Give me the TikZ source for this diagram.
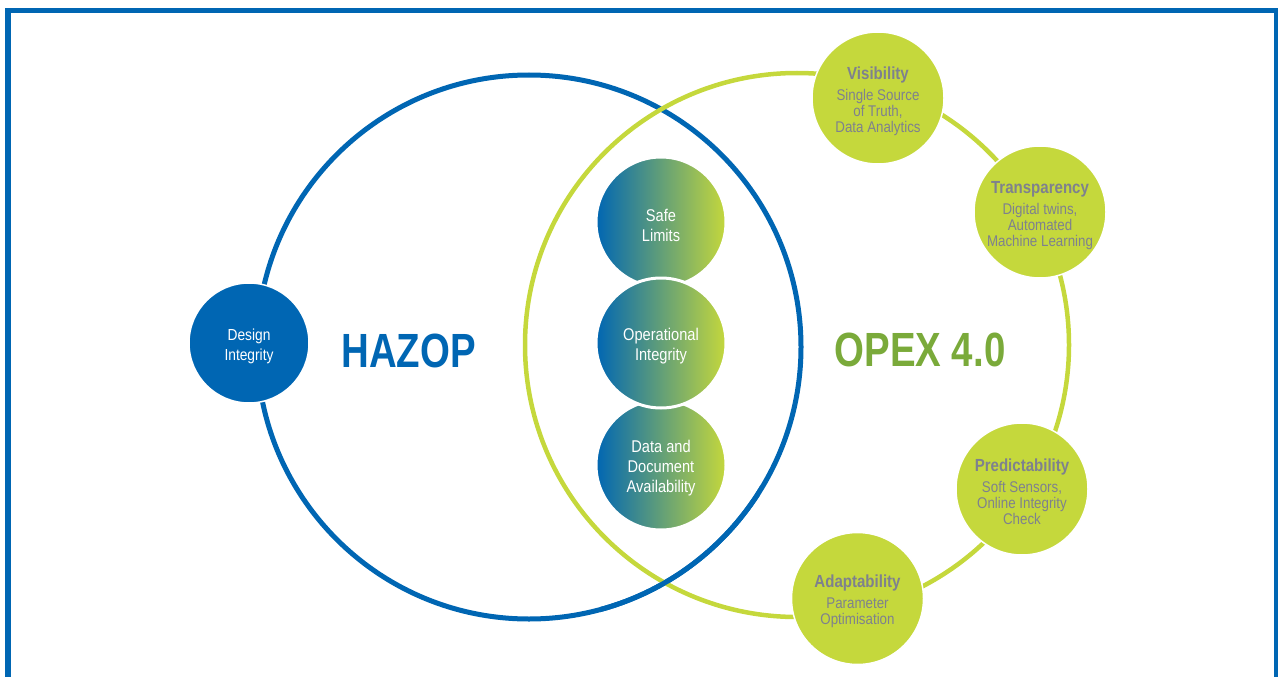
\documentclass[tikz,border=0pt]{standalone}
\usepackage{fontspec}
\newfontfamily\condfont{Liberation Sans}[FakeStretch=0.86]
\newfontfamily\headfont{Liberation Sans}[FakeStretch=0.8]
\definecolor{hblue}{RGB}{0,102,179}
\definecolor{ogreen}{RGB}{197,216,60}
\definecolor{odark}{RGB}{122,170,58}
\definecolor{tgray}{RGB}{126,129,142}
\tikzset{
  frameline/.style={draw=hblue, line width=5.5pt},
  bluering/.style={draw=hblue, line width=5pt},
  greenring/.style={draw=ogreen, line width=4.5pt},
  bluedot/.style={circle, fill=hblue, draw=white, line width=1.5pt, minimum size=120pt, inner sep=0pt,
    text=white, align=center, font={\condfont\fontsize{16}{20}\selectfont}},
  graddot/.style={circle, left color=hblue, right color=ogreen, draw=white, line width=3pt,
    minimum size=130pt, inner sep=0pt, text=white, align=center, font={\condfont\fontsize{17}{20}\selectfont}},
  greendot/.style={circle, fill=ogreen, draw=white, line width=1.5pt, minimum size=132pt, inner sep=0pt,
    text=tgray, align=center, font={\condfont\fontsize{15.5}{16}\selectfont}},
  bigword/.style={anchor=base, font={\headfont\bfseries\fontsize{48}{50}\selectfont}}
}
\newcommand{\fl}{\rule{0pt}{18.5pt}}
\newcommand{\ttl}[1]{{\bfseries\fontsize{17.5}{16}\selectfont\fl #1}}
\begin{document}
\begin{tikzpicture}[x=1pt,y=-1pt]
\useasboundingbox (0,0) rectangle (1278,677);
\draw[frameline] (8.2,10.75) rectangle (1276.5,720);
\coordinate (hc) at (529,347);
\coordinate (oc) at (797,345);
\draw[bluering] (hc) circle (272pt);
\draw[greenring] (oc) circle (272pt);
\begin{scope}
  \clip (600,480) rectangle (760,677);
  \draw[bluering] (hc) circle (272pt);
\end{scope}
% HAZOP side
\node[bluedot] (design) at (249,343) {\fl Design\\Integrity};
\node[bigword, text=hblue] (hazop) at (408.5,367) {HAZOP};
\node[bigword, text=odark] (opex) at (920,366) {OPEX 4.0};
% gradient column
\node[graddot] (safe) at (661,222) {\fl Safe\\Limits};
\node[graddot] (data) at (661,465) {\fl Data and\\Document\\Availability};
\node[graddot] (oper) at (661,343) {\fl Operational\\Integrity};
% OPEX circles
\node[greendot] (vis) at (878,98) {\ttl{Visibility}\\[5pt]Single Source\\of Truth,\\Data Analytics};
\node[greendot] (trans) at (1040,212) {\ttl{Transparency}\\[5pt]Digital twins,\\Automated\\Machine Learning};
\node[greendot] (pred) at (1022,489) {\ttl{Predictability}\\[5pt]Soft Sensors,\\Online Integrity\\Check};
\node[greendot] (adapt) at (857.5,598.5) {\ttl{Adaptability}\\[5pt]Parameter\\Optimisation};
\end{tikzpicture}
\end{document}
